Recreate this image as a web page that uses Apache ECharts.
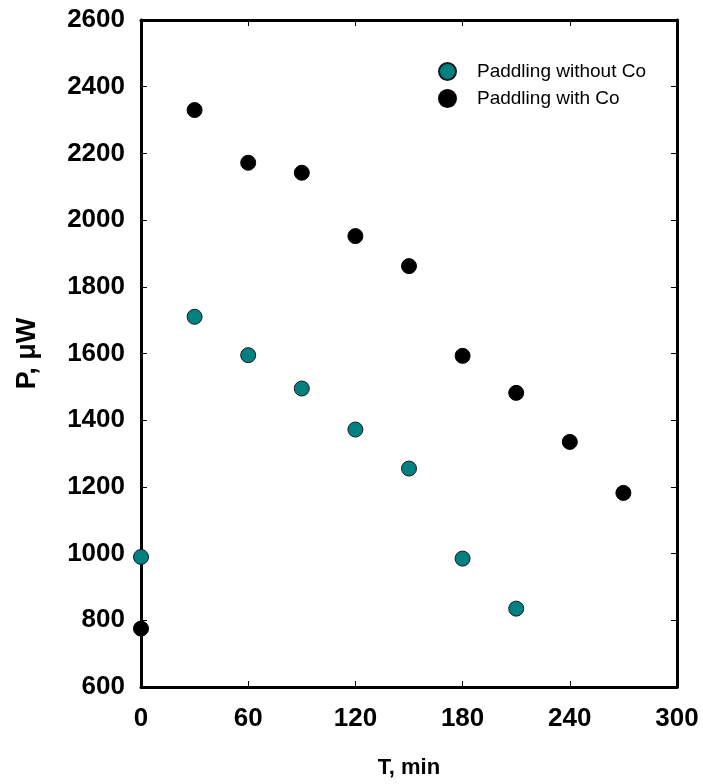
<!DOCTYPE html>
<html>
<head>
<meta charset="utf-8">
<script src="https://cdn.jsdelivr.net/npm/echarts@6/dist/echarts.min.js"></script>
<style>html,body{margin:0;padding:0;background:#fff}#c{width:703px;height:784px}</style>
</head>
<body>
<div id="c"></div>
<script>
const timeWithout = [0, 30, 60, 90, 120, 150, 180, 210];
const powerWithout = [990, 1710, 1595, 1495, 1372, 1255, 985, 835];
const timeWith = [0, 30, 60, 90, 120, 150, 180, 210, 240, 270];
const powerWith = [775, 2330, 2172, 2142, 1952, 1862, 1593, 1482, 1335, 1182];
const seriesNames = ['Paddling without Co', 'Paddling with Co'];
const xTitle = 'T, min';
const yTitle = 'P, \u03bcW';

const chart = echarts.init(document.getElementById('c'), null, {renderer: 'canvas'});
const font = '"Liberation Sans", Arial, sans-serif';
const axisLine = {show: true, onZero: false, lineStyle: {color: '#000', width: 3}};
const tick = {show: true, inside: true, length: 6, lineStyle: {color: '#000', width: 1}};
const lbl = {color: '#000', fontFamily: font, fontWeight: 'bold', fontSize: 26, formatter: v => String(v)};
chart.setOption({
  animation: false,
  backgroundColor: '#fff',
  grid: {left: 141, right: 26, top: 20, bottom: 94, containLabel: false},
  legend: {
    orient: 'vertical', left: 433, top: 57, itemGap: 8,
    icon: 'circle', itemWidth: 17, itemHeight: 17,
    textStyle: {color: '#000', fontFamily: font, fontSize: 19, padding: [0, 0, 0, 16]},
    data: seriesNames
  },
  xAxis: [
    {type: 'value', min: 0, max: 300, interval: 60, position: 'bottom',
     axisLine: axisLine, axisTick: tick, splitLine: {show: false},
     axisLabel: Object.assign({}, lbl, {margin: 19}),
     name: xTitle, nameLocation: 'middle', nameGap: 70,
     nameTextStyle: {color: '#000', fontFamily: font, fontWeight: 'bold', fontSize: 22}},
    {type: 'value', min: 0, max: 300, interval: 60, position: 'top',
     axisLine: axisLine, axisTick: tick, splitLine: {show: false}, axisLabel: {show: false}}
  ],
  yAxis: [
    {type: 'value', min: 600, max: 2600, interval: 200, position: 'left',
     axisLine: axisLine, axisTick: tick, splitLine: {show: false},
     axisLabel: Object.assign({}, lbl, {margin: 16}),
     name: yTitle, nameLocation: 'middle', nameGap: 100, nameRotate: 90,
     nameTextStyle: {color: '#000', fontFamily: font, fontWeight: 'bold', fontSize: 27}},
    {type: 'value', min: 600, max: 2600, interval: 200, position: 'right',
     axisLine: axisLine, axisTick: tick, splitLine: {show: false}, axisLabel: {show: false}}
  ],
  series: [
    {name: seriesNames[0], type: 'scatter', clip: false, symbol: 'circle', symbolSize: 15,
     itemStyle: {color: '#008080', borderColor: '#1a1a1a', borderWidth: 1, opacity: 1},
     data: timeWithout.map((t, i) => [t, powerWithout[i]])},
    {name: seriesNames[1], type: 'scatter', clip: false, symbol: 'circle', symbolSize: 15,
     itemStyle: {color: '#000', borderColor: '#000', borderWidth: 1, opacity: 1},
     data: timeWith.map((t, i) => [t, powerWith[i]])}
  ]
});
</script>
</body>
</html>
